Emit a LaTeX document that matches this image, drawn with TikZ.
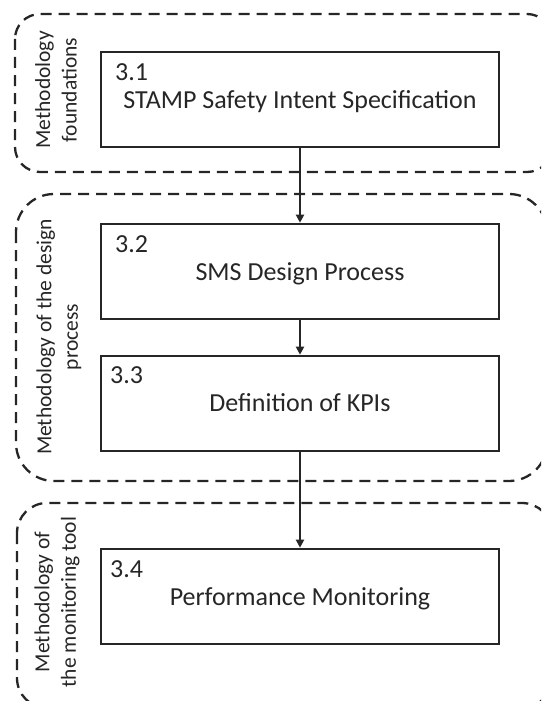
\documentclass[tikz,border=0pt]{standalone}
\usepackage{fontspec}
\setmainfont{Carlito}
\usetikzlibrary{arrows.meta}
\begin{document}
\begin{tikzpicture}[x=1pt,y=-1pt,
  group/.style={draw=black!85, line width=2.3pt, dash pattern=on 11pt off 7pt},
  stepbox/.style={draw=black!85, line width=2.6pt, minimum width=398pt, minimum height=95pt, inner sep=0pt},
  num/.style={anchor=base west, inner sep=0pt, font=\fontsize{26}{30}\selectfont, text=black!85},
  title/.style={anchor=base, inner sep=0pt, font=\fontsize{26}{30}\selectfont, text=black!85},
  grouplabel/.style={rotate=90, align=center, inner sep=0pt, font=\fontsize{21.5}{26.5}\selectfont, text=black!85},
  flow/.style={draw=black!85, line width=2pt, -{Triangle[length=8pt,width=8pt]}}]
\useasboundingbox (0,0) rectangle (541,701);
\clip (0,0) rectangle (541,701);

% dashed phase groups (they run past the right and bottom edges)
\draw[group, rounded corners=25pt] (15,14) rectangle (552,172);
\draw[group, rounded corners=38pt] (16,194) rectangle (547,481);
\draw[group, rounded corners=30pt] (17,503) rectangle (552,708);

% group labels
\node[grouplabel] (lab1) at (56,90) {Methodology\\foundations};
\node[grouplabel] (lab2) at (59,337) {Methodology of the design\\process};
\node[grouplabel] (lab3) at (57,602) {Methodology of\\the monitoring tool};

% process steps
\node[stepbox] (s1) at (300,99.5) {};
\node[stepbox] (s2) at (300,271.5) {};
\node[stepbox] (s3) at (300,403.5) {};
\node[stepbox] (s4) at (300,596.5) {};

\node[num] (n1) at (115,80) {3.1};
\node[title] (t1) at (300,108) {STAMP Safety Intent Specification};
\node[num] (n2) at (115,252) {3.2};
\node[title] (t2) at (300,280) {SMS Design Process};
\node[num] (n3) at (110,383) {3.3};
\node[title] (t3) at (300,411) {Definition of KPIs};
\node[num] (n4) at (110,577) {3.4};
\node[title] (t4) at (300,605) {Performance Monitoring};

% flow between steps
\draw[flow] (s1.south) -- (s2.north);
\draw[flow] (s2.south) -- (s3.north);
\draw[flow] (s3.south) -- (s4.north);
\end{tikzpicture}
\end{document}
